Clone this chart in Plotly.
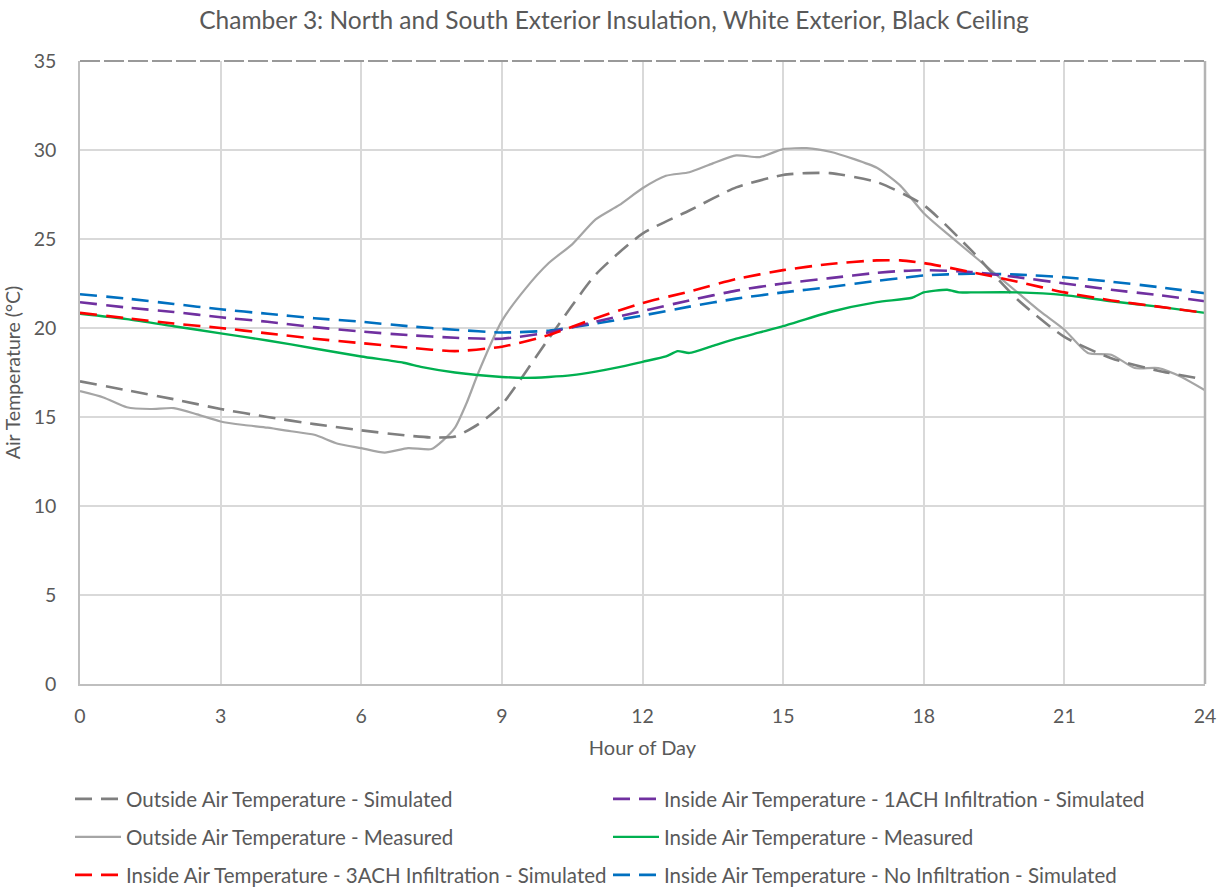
import plotly.graph_objects as go

# Hour of day for the simulated (smooth) series
hours_sim = [0, 1, 2, 3, 4, 5, 6, 7, 7.5, 8, 8.5, 9, 10, 11, 12, 13, 14, 15, 15.5, 16,
             17, 18, 19, 20, 21, 22, 23, 24]
outside_sim = [17.0, 16.5, 16.0, 15.45, 15.0, 14.6, 14.25, 13.95, 13.85, 13.9, 14.6, 15.7,
               19.4, 23.0, 25.3, 26.6, 27.9, 28.6, 28.7, 28.7, 28.2, 26.9, 24.4, 21.6,
               19.5, 18.3, 17.6, 17.1]

hours_in_sim = [0, 1, 2, 3, 4, 5, 6, 7, 8, 9, 10, 11, 12, 13, 14, 15, 16, 17, 17.5, 18,
                19, 20, 21, 22, 23, 24]
inside_3ach = [20.85, 20.55, 20.25, 20.0, 19.7, 19.4, 19.15, 18.9, 18.7, 18.95, 19.6, 20.55,
               21.4, 22.05, 22.75, 23.25, 23.6, 23.8, 23.8, 23.65, 23.15, 22.6, 22.0,
               21.55, 21.2, 20.85]
inside_1ach = [21.45, 21.15, 20.9, 20.6, 20.35, 20.05, 19.8, 19.6, 19.45, 19.4, 19.75, 20.35,
               20.95, 21.55, 22.1, 22.5, 22.8, 23.1, 23.2, 23.25, 23.15, 22.85, 22.5,
               22.15, 21.85, 21.5]
inside_noinf = [21.9, 21.65, 21.35, 21.05, 20.8, 20.55, 20.35, 20.1, 19.9, 19.75, 19.85, 20.25,
                20.7, 21.2, 21.65, 22.0, 22.3, 22.65, 22.8, 22.95, 23.05, 23.0, 22.85,
                22.6, 22.3, 21.95]

# Measured outside air temperature (half-hour readings)
hours_out_meas = [0, 0.5, 1, 1.5, 2, 2.5, 3, 3.5, 4, 4.5, 5, 5.5, 6, 6.5, 7, 7.5, 7.75, 8,
                  8.25, 8.5, 9, 9.5, 10, 10.5, 11, 11.5, 12, 12.5, 13, 13.5, 14, 14.5, 15,
                  15.5, 16, 16.5, 17, 17.5, 18, 18.5, 19, 19.5, 20, 20.5, 21, 21.5, 22,
                  22.5, 23, 23.5, 24]
outside_meas = [16.45, 16.1, 15.55, 15.45, 15.5, 15.15, 14.75, 14.55, 14.4, 14.2, 14.0, 13.5,
                13.25, 13.0, 13.25, 13.2, 13.7, 14.4, 15.8, 17.5, 20.4, 22.2, 23.65, 24.7,
                26.1, 26.9, 27.85, 28.55, 28.75, 29.25, 29.7, 29.6, 30.05, 30.1, 29.9, 29.5,
                29.0, 28.0, 26.45, 25.3, 24.2, 23.1, 22.0, 20.9, 19.9, 18.6, 18.5, 17.75,
                17.75, 17.25, 16.5]

# Measured inside air temperature
hours_in_meas = [0, 1, 2, 3, 4, 5, 6, 6.9, 7.3, 8, 9, 9.5, 10, 10.5, 11, 11.5, 12, 12.5,
                 12.75, 13, 13.5, 14, 14.5, 15, 16, 17, 17.75, 18, 18.5, 18.75, 19, 20, 21,
                 22, 23, 24]
inside_meas = [20.8, 20.5, 20.1, 19.7, 19.3, 18.85, 18.4, 18.05, 17.8, 17.5, 17.25, 17.2,
               17.25, 17.35, 17.55, 17.8, 18.1, 18.4, 18.7, 18.6, 19.0, 19.4, 19.75, 20.1,
               20.9, 21.45, 21.7, 22.0, 22.15, 22.0, 22.0, 22.0, 21.85, 21.5, 21.2, 20.85]

x_ticks = [0, 3, 6, 9, 12, 15, 18, 21, 24]
y_ticks = [0, 5, 10, 15, 20, 25, 30, 35]

FONT = "Lato"
TXT = "#595959"
DASH = "17px,9px"

fig = go.Figure()

def add(x, y, name, color, dash, width, legend, rank):
    fig.add_trace(go.Scatter(
        x=x, y=y, name=name, mode="lines",
        line=dict(color=color, dash=dash, width=width, shape="spline", smoothing=0.6),
        legend=legend, legendrank=rank,
    ))

# Drawing order (later traces sit on top)
add(hours_out_meas, outside_meas, "Outside Air Temperature - Measured", "#a5a5a5", "solid", 2.2, "legend2", 1)
add(hours_sim, outside_sim, "Outside Air Temperature - Simulated", "#7f7f7f", DASH, 2.6, "legend", 1)
add(hours_in_meas, inside_meas, "Inside Air Temperature - Measured", "#00b050", "solid", 2.4, "legend2", 2)
add(hours_in_sim, inside_noinf, "Inside Air Temperature - No Infiltration - Simulated", "#0070c0", DASH, 2.6, "legend3", 2)
add(hours_in_sim, inside_1ach, "Inside Air Temperature - 1ACH Infiltration - Simulated", "#7030a0", DASH, 2.6, "legend", 2)
add(hours_in_sim, inside_3ach, "Inside Air Temperature - 3ACH Infiltration - Simulated", "#ff0000", DASH, 2.6, "legend3", 1)

legend_common = dict(
    orientation="h", xref="container", yref="container",
    xanchor="left", yanchor="middle", x=70 / 1228,
    entrywidth=477, entrywidthmode="pixels", itemwidth=46,
    font=dict(family=FONT, size=20.5, color=TXT), bgcolor="rgba(0,0,0,0)",
    traceorder="normal", itemclick=False,
)

fig.update_layout(
    width=1228, height=888,
    margin=dict(l=77, r=23, t=61, b=204),
    paper_bgcolor="white", plot_bgcolor="white",
    title=dict(text="Chamber 3: North and South Exterior Insulation, White Exterior, Black Ceiling",
               x=0.5, xanchor="center", y=1 - 20 / 888, yanchor="middle",
               font=dict(family=FONT, size=24.5, color=TXT)),
    font=dict(family=FONT, color=TXT),
    legend=dict(**legend_common, y=1 - 799 / 888),
    legend2=dict(**legend_common, y=1 - 837 / 888),
    legend3=dict(**legend_common, y=1 - 875 / 888),
    xaxis=dict(range=[0, 24], tickvals=x_ticks, ticktext=[str(v) for v in x_ticks],
               showgrid=True, gridcolor="#d9d9d9", gridwidth=1.5,
               showline=True, linecolor="#bfbfbf", linewidth=1.5,
               zeroline=False, ticks="", ticklabelstandoff=14,
               tickfont=dict(family=FONT, size=19.5, color=TXT),
               title=dict(text="Hour of Day", font=dict(family=FONT, size=20, color=TXT),
                          standoff=15)),
    yaxis=dict(range=[0, 35], tickvals=y_ticks, ticktext=[str(v) for v in y_ticks],
               showgrid=True, gridcolor="#d9d9d9", gridwidth=1.5,
               showline=True, linecolor="#bfbfbf", linewidth=1.5,
               zeroline=False, ticks="", ticklabelstandoff=18,
               tickfont=dict(family=FONT, size=19.5, color=TXT),
               title=dict(text="Air Temperature (°C)", font=dict(family=FONT, size=19.5, color=TXT),
                          standoff=8)),
    shapes=[
        # plot-area frame: darker right edge and dashed top edge
        dict(type="line", xref="paper", yref="paper", x0=1, x1=1, y0=0, y1=1,
             line=dict(color="#b4b4b4", width=2.5), layer="above"),
        dict(type="line", xref="paper", yref="paper", x0=0, x1=1, y0=1, y1=1,
             line=dict(color="#999999", width=2, dash="20px,4px"), layer="above"),
    ],
)

fig.write_html("out.html")
